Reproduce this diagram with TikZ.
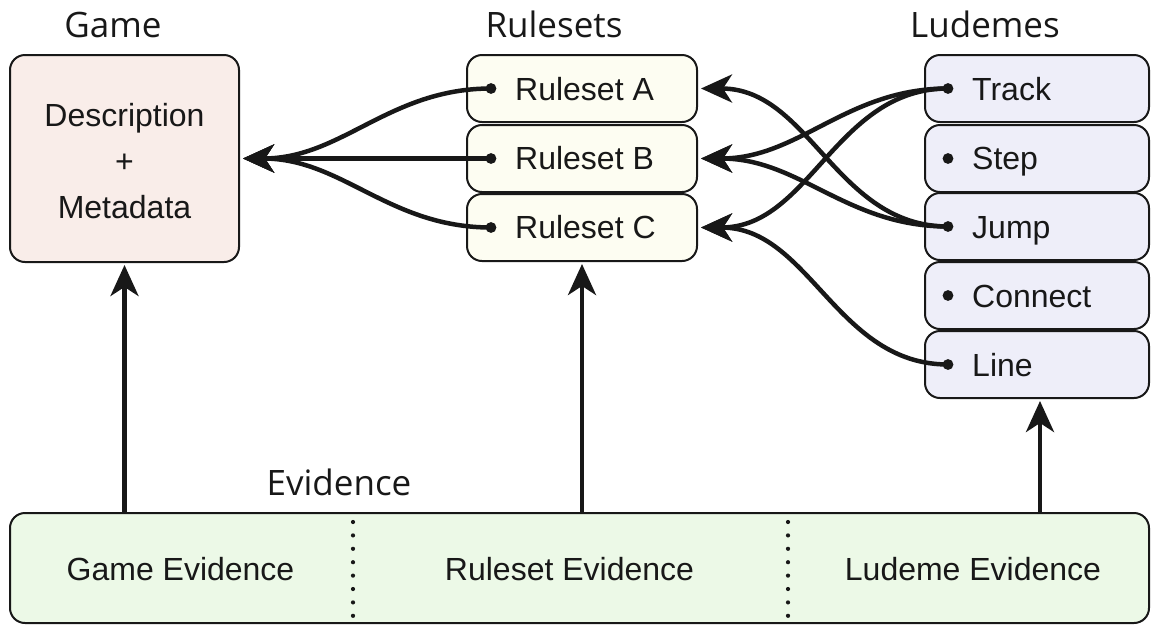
\documentclass[tikz,border=0pt]{standalone}
\usepackage{fontspec}
\setmainfont{Liberation Sans}
\newfontfamily\titlefont{Open Sans}
\usetikzlibrary{arrows.meta}

\definecolor{ink}{RGB}{24,24,24}
\definecolor{gamefill}{RGB}{249,237,233}
\definecolor{rulefill}{RGB}{253,253,242}
\definecolor{ludfill}{RGB}{238,238,249}
\definecolor{evfill}{RGB}{236,249,231}

\begin{document}
\begin{tikzpicture}[x=1pt,y=-1pt,
  box/.style={draw=ink, line width=2pt, rounded corners=15pt, inner sep=0pt},
  rulebox/.style={box, fill=rulefill, minimum width=230pt, minimum height=67pt},
  ludbox/.style={box, fill=ludfill, minimum width=224pt, minimum height=67pt},
  lbl/.style={inner sep=0pt, text=ink, font=\fontsize{32}{38}\selectfont},
  title/.style={inner sep=0pt, text=ink, anchor=base, font=\titlefont\fontsize{35}{42}\selectfont},
  link/.style={draw=ink, line width=4.5pt, -{Stealth[length=31pt, width=28pt, inset=9pt]}},
  sep/.style={draw=ink, line width=4.2pt, line cap=round, dash pattern=on 0pt off 13.4pt},
  dot/.style={fill=ink}
]
\useasboundingbox (0,0) rectangle (1151,625);

% column titles
\node[title] (t-game) at (113,37) {Game};
\node[title] (t-rules) at (554,37) {Rulesets};
\node[title] (t-lud) at (985,37) {Ludemes};
\node[title] (t-ev) at (339,495) {Evidence};

% game
\node[box, fill=gamefill, minimum width=229pt, minimum height=207pt] (game) at (124.5,158.5) {};
\node[lbl, align=center, font=\fontsize{32}{46}\selectfont] (game-t) at (124.5,161.5)
      {Description\\+\\Metadata};

% rulesets
\node[rulebox] (ra) at (582,88.5) {};
\node[rulebox] (rb) at (582,158.5) {};
\node[rulebox] (rc) at (582,227.5) {};
\node[lbl, anchor=base west] (ra-t) at (515,100) {Ruleset A};
\node[lbl, anchor=base west] (rb-t) at (515,169.5) {Ruleset B};
\node[lbl, anchor=base west] (rc-t) at (515,238.5) {Ruleset C};
\coordinate (ra-d) at (491,88.5);
\coordinate (rb-d) at (491,158.5);
\coordinate (rc-d) at (491,227.5);

% ludemes
\node[ludbox] (track) at (1037,88.5) {};
\node[ludbox] (step) at (1037,158.5) {};
\node[ludbox] (jump) at (1037,226.5) {};
\node[ludbox] (connect) at (1037,295.5) {};
\node[ludbox] (line) at (1037,364.5) {};
\node[lbl, anchor=base west] (track-t) at (972,100) {Track};
\node[lbl, anchor=base west] (step-t) at (972,169.5) {Step};
\node[lbl, anchor=base west] (jump-t) at (972,238) {Jump};
\node[lbl, anchor=base west] (connect-t) at (972,307) {Connect};
\node[lbl, anchor=base west] (line-t) at (972,376) {Line};
\coordinate (track-d) at (948,88.5);
\coordinate (step-d) at (948,158.5);
\coordinate (jump-d) at (948,226.5);
\coordinate (connect-d) at (948,295.5);
\coordinate (line-d) at (948,364.5);

% evidence
\node[box, fill=evfill, minimum width=1139pt, minimum height=110pt] (ev) at (579.5,568) {};
\node[lbl, anchor=base] (ev-game) at (180.5,580) {Game Evidence};
\node[lbl, anchor=base] (ev-rule) at (569.5,580) {Ruleset Evidence};
\node[lbl, anchor=base] (ev-lud) at (973,580) {Ludeme Evidence};
\coordinate (sep1-a) at (353,522);
\coordinate (sep1-b) at (353,622);
\coordinate (sep2-a) at (788,522);
\coordinate (sep2-b) at (788,622);
\draw[sep] (sep1-a) -- (sep1-b);
\draw[sep] (sep2-a) -- (sep2-b);

% rulesets feed the game
\draw[link, shorten >=3pt] (ra-d) to[out=180,in=0] (game.east);
\draw[link, shorten >=3pt] (rb-d) -- (game.east);
\draw[link, shorten >=3pt] (rc-d) to[out=180,in=0] (game.east);

% ludemes used by each ruleset
\draw[link, shorten >=3pt] (jump-d) to[out=180,in=0] (ra.east);
\draw[link, shorten >=3pt] (track-d) to[out=180,in=0] (rb.east);
\draw[link, shorten >=3pt] (jump-d) to[out=180,in=0] (rb.east);
\draw[link, shorten >=3pt] (track-d) to[out=180,in=0] (rc.east);
\draw[link, shorten >=3pt] (line-d) to[out=180,in=0] (rc.east);

% evidence supports each level
\draw[link, shorten >=2pt] (game.south |- ev.north) -- (game.south);
\draw[link, shorten >=2pt] (rc.south |- ev.north) -- (rc.south);
\draw[link, shorten >=2pt] ([xshift=3pt]line.south |- ev.north) -- ([xshift=3pt]line.south);

% attachment dots
\foreach \d in {ra-d,rb-d,rc-d,track-d,step-d,jump-d,connect-d,line-d}
  \fill[dot] (\d) circle (5.4pt);
\end{tikzpicture}
\end{document}
